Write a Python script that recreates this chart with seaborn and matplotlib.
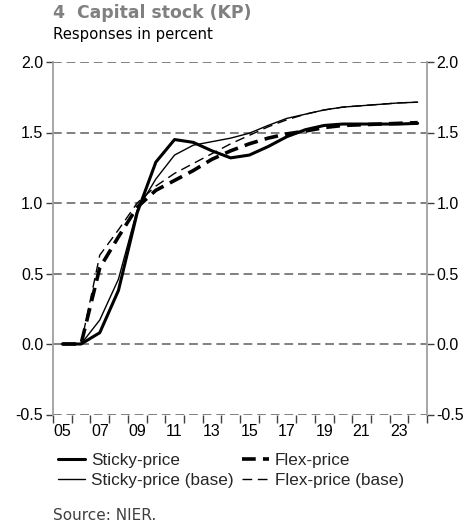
import numpy as np
import pandas as pd
import matplotlib
matplotlib.use("Agg")
import matplotlib.pyplot as plt
import seaborn as sns

years = ["05", "06", "07", "08", "09", "10", "11", "12", "13", "14",
         "15", "16", "17", "18", "19", "20", "21", "22", "23", "24"]
sticky = [0, 0, 0.08, 0.38, 0.93, 1.29, 1.45, 1.43, 1.37, 1.32,
          1.34, 1.40, 1.47, 1.52, 1.55, 1.56, 1.56, 1.56, 1.56, 1.565]
sticky_base = [0, 0, 0.17, 0.46, 0.95, 1.17, 1.34, 1.41, 1.435, 1.46,
               1.495, 1.55, 1.60, 1.63, 1.66, 1.68, 1.69, 1.70, 1.71, 1.715]
flex = [0, 0, 0.54, 0.76, 0.97, 1.09, 1.16, 1.23, 1.31, 1.37,
        1.42, 1.46, 1.49, 1.51, 1.535, 1.55, 1.555, 1.56, 1.565, 1.57]
flex_base = [0, 0, 0.63, 0.81, 1.0, 1.12, 1.21, 1.28, 1.35, 1.42,
             1.48, 1.54, 1.59, 1.63, 1.66, 1.68, 1.69, 1.70, 1.71, 1.715]
yticks = [-0.5, 0.0, 0.5, 1.0, 1.5, 2.0]
xlabels = ["05", "07", "09", "11", "13", "15", "17", "19", "21", "23"]

sns.set_theme(style="white")
plt.rcParams['font.family'] = ['Liberation Sans', 'DejaVu Sans']

fig = plt.figure(figsize=(4.75, 5.3), dpi=100)
ax = fig.add_axes([53/475, 1-414.5/530, (427-53)/475, (414.5-62)/530])

idx = np.arange(len(years))
df = pd.DataFrame({"idx": idx, "Sticky-price": sticky, "Flex-price": flex,
                   "Sticky-price (base)": sticky_base, "Flex-price (base)": flex_base})

styles = {
    "Sticky-price": dict(lw=2.2, dashes=None),
    "Flex-price": dict(lw=2.6, dashes=(3.8, 2.0)),
    "Sticky-price (base)": dict(lw=1.0, dashes=None),
    "Flex-price (base)": dict(lw=1.0, dashes=(7, 4)),
}

# gridlines
for y in yticks:
    ax.axhline(y, color="#808080", lw=1.4, ls=(0, (4.5, 2.5)), zorder=1)

handles = {}
for name in ["Sticky-price (base)", "Flex-price (base)", "Flex-price", "Sticky-price"]:
    sns.lineplot(data=df, x="idx", y=name, ax=ax, color="black", lw=styles[name]["lw"], zorder=3)
    ln = ax.lines[-1]
    if styles[name]["dashes"] is not None:
        ln.set_dashes(styles[name]["dashes"])
    handles[name] = ln

ax.set_xlim(-0.5, len(years) - 0.5)
ax.set_ylim(-0.5, 2.0)
ax.set_xlabel("")
ax.set_ylabel("")
ax.set_yticks(yticks)
ax.set_yticklabels([f"{v:.1f}" for v in yticks])
ax.set_xticks(idx[::2])
ax.set_xticklabels(xlabels)
ax.set_xticks(np.arange(-0.5, len(years) + 0.5, 1), minor=True)

for s in ["top", "bottom"]:
    ax.spines[s].set_visible(False)
for s in ["left", "right"]:
    ax.spines[s].set_visible(True)
    ax.spines[s].set_color("#a0a0a0")
    ax.spines[s].set_linewidth(1.3)

ax.tick_params(axis="y", which="major", left=True, right=True, labelleft=True, labelright=True,
               length=5, width=1, color="#404040", direction="out", labelsize=11.5,
               labelcolor="black", pad=2)
ax.tick_params(axis="x", which="major", length=0, labelsize=11.5, pad=7, labelcolor="black")
ax.tick_params(axis="x", which="minor", bottom=True, length=6, width=1, color="#404040",
               direction="out")

# column-wise fill: col1 = sticky pair, col2 = flex pair
order = ["Sticky-price", "Sticky-price (base)", "Flex-price", "Flex-price (base)"]
leg = fig.legend([handles[n] for n in order], order, loc="upper left",
                 bbox_to_anchor=(58/475, 1-453/530), ncol=2, frameon=False,
                 fontsize=12.3, handlelength=1.6, handletextpad=0.35, columnspacing=0.45,
                 labelspacing=0.3, borderaxespad=0, borderpad=0)

fig.text(53/475, 1-18/530, "4  Capital stock (KP)", fontsize=12.4, fontweight="bold",
         color="#808080", family="DejaVu Sans", va="baseline", ha="left")
fig.text(53/475, 1-39/530, "Responses in percent", fontsize=10.7, color="black",
         family="DejaVu Sans", va="baseline", ha="left")
fig.text(53/475, 1-520/530, "Source: NIER.", fontsize=11, color="#404040",
         family="DejaVu Sans", va="baseline", ha="left")

fig.savefig("out.png", dpi=100)
